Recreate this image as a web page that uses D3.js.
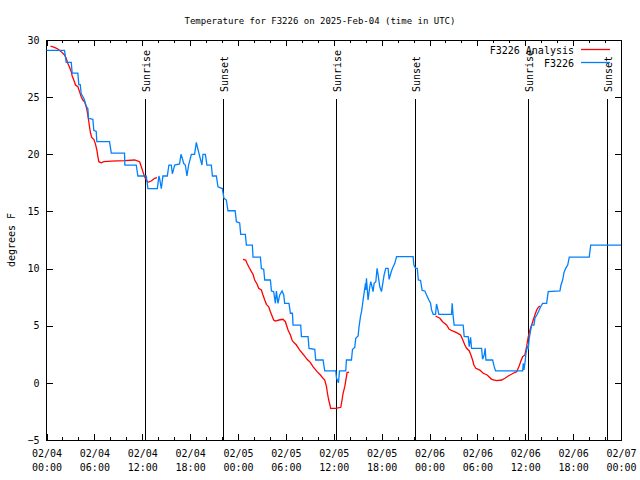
<!DOCTYPE html>
<html><head><meta charset="utf-8">
<script src="https://cdn.jsdelivr.net/npm/d3@7"></script>
<style>
body{margin:0;background:#fff}
text{font-family:"DejaVu Sans Mono","Liberation Mono",monospace;font-size:10px;fill:#000}
</style>
</head><body>
<svg id="c" width="640" height="480"></svg>
<script>
const titleText = "Temperature for F3226 on 2025-Feb-04 (time in UTC)";
const yLabel = "degrees F";
const yTicks = [-5, 0, 5, 10, 15, 20, 25, 30];
const seriesNames = ["F3226 Analysis", "F3226"];
const sunriseHours = [12.33, 36.3, 60.38];
const sunsetHours = [22.12, 46.2, 70.3];

// F3226 observations (hours since 2025-02-04 00:00 UTC, deg F)
const obsHours = [0,2.26,2.47,3.10,3.22,3.93,4.05,4.23,4.35,4.68,
4.98,5.18,5.27,5.81,5.93,6.23,6.31,7.90,8.12,9.78,
9.82,11.25,11.45,12.5,12.71,13.89,14.09,14.17,14.39,14.59,
15.14,15.34,15.64,15.77,15.93,16.06,16.68,16.85,17.02,17.19,
17.40,17.6,17.81,18.15,18.56,18.78,18.9,19.1,19.32,19.48,
19.61,19.91,20.11,20.66,20.79,21.29,21.49,22.04,22.24,22.54,
22.74,23.64,23.8,24.21,24.34,24.92,25.05,25.8,25.88,26.81,
26.93,27.22,27.35,28.06,28.19,28.47,28.69,28.81,29.01,29.23,
29.52,29.73,29.85,30.39,30.57,30.82,30.9,31.86,31.95,32.78,
32.9,33.62,33.74,34.66,34.87,36.25,36.34,36.59,36.72,37.5,
37.59,38.22,38.35,38.63,38.76,39.05,39.17,39.35,39.48,39.6,
39.68,39.8,39.98,40.01,40.1,40.22,40.3,40.43,40.52,40.64,
40.8,40.93,41.06,41.27,41.43,41.56,41.77,41.98,42.11,42.31,
42.52,42.81,42.94,43.15,43.36,43.65,43.87,45.95,46.04,46.25,
46.47,46.6,46.88,47.08,47.42,47.63,47.92,48.13,48.26,48.46,
48.76,48.88,49.01,49.17,50.76,50.84,50.97,51.09,52.22,52.35,
52.85,52.97,53.15,53.27,54.53,54.65,54.85,54.98,55.07,55.91,
56.11,56.28,59.67,59.75,59.83,59.96,60.09,60.25,60.38,60.5,
60.68,60.8,61.09,61.21,61.5,61.75,61.93,62.18,62.68,62.88,
64.35,64.48,64.69,64.85,65.07,65.32,65.52,68.02,68.2,72];
const obsTemps = [29.1,29.1,28.05,28.05,27.1,27.1,26.1,26.1,25.3,24.9,
24.2,24.0,23.15,23.06,22.1,22.0,21.1,21.1,20.1,20.1,
19.06,19.06,18.1,18.1,17.0,17.0,18.1,17.9,17.0,18.1,
18.1,19.06,19.06,18.3,18.7,19.06,19.15,20.0,19.65,19.2,
19.06,18.1,19.06,20.0,20.0,21.05,20.66,20.1,19.5,19.06,
20.0,20.0,19.06,19.06,18.1,18.1,17.16,17.0,16.15,16.0,
15.06,15.06,14.1,14.0,13.0,13.0,12.06,12.06,11.0,11.0,
10.0,9.94,9.0,9.0,8.04,7.98,6.96,8.04,6.96,7.69,
8.04,7.69,6.96,6.96,6.09,6.09,5.06,5.06,4.04,4.04,
3.02,2.94,2.0,2.0,1.04,1.04,0.43,0.0,1.04,1.04,
2.0,2.0,2.94,3.1,3.9,4.1,4.92,5.8,6.23,6.81,
7.25,7.84,8.71,8.13,9.15,7.98,7.25,7.98,8.41,8.85,
8.41,7.98,8.71,8.85,10.02,9.44,8.41,7.98,8.56,9.44,
10.02,10.02,9.06,9.59,10.02,10.46,11.04,11.04,10.31,10.02,
10.02,9.0,8.96,8.08,8.04,7.69,7.25,6.96,6.38,6.0,
6.0,6.9,6.52,6.0,6.0,6.96,5.8,5.06,5.06,4.04,
4.04,3.16,3.98,3.02,3.02,2.06,2.44,3.02,2.0,2.0,
1.42,1.04,1.04,1.71,1.13,1.71,2.59,3.16,3.02,3.9,
4.62,5.06,5.06,5.65,6.0,6.38,6.66,6.96,6.96,7.98,
8.04,8.56,9.0,9.64,10.02,10.31,11.0,11.0,12.06,12.06];

// F3226 Analysis (null = gap)
const anaHours = [0.5,1.0,1.42,1.84,2.26,2.47,2.67,2.89,3.1,3.22,
3.42,3.64,3.93,4.14,4.35,4.55,4.77,4.98,5.11,5.27,
5.39,5.52,5.68,5.93,6.11,6.31,6.44,6.56,6.86,7.19,
8.12,9.78,11.04,11.67,11.88,12.08,12.29,12.51,12.71,13.13,
13.55,13.84,
20,
24.62,24.96,25.13,25.38,25.68,25.88,26.09,26.38,26.59,26.93,
27.13,27.35,27.56,27.85,28.06,28.31,28.47,28.66,29.14,29.64,
29.94,30.07,30.27,30.57,30.77,30.9,31.32,31.74,32.24,32.65,
32.99,33.4,33.91,34.33,34.66,34.87,35.09,35.21,35.37,35.62,
36.25,36.88,37.04,37.17,37.38,37.59,37.67,37.92,
45,
48.76,49.3,49.64,50.14,50.47,50.89,51.39,51.89,52.14,52.43,
52.65,52.97,53.19,53.4,53.56,53.81,54.31,54.73,55.23,55.78,
56.41,57.04,57.45,57.87,58.49,58.92,59.21,59.42,59.67,59.96,
60.17,60.38,60.59,60.8,61.0,61.21,61.43,61.63,61.84];
const anaTemps = [29.47,29.36,29.21,28.98,28.69,28.4,27.96,27.61,27.23,26.85,
26.5,26.06,25.91,25.48,25.04,24.75,24.6,24.16,23.73,23.0,
22.41,21.84,21.45,21.31,20.96,20.38,19.79,19.35,19.26,19.35,
19.41,19.44,19.5,19.35,18.91,18.48,18.04,17.75,17.55,17.66,
17.9,17.95,
null,
10.81,10.75,10.46,10.11,9.73,9.5,9.0,8.65,8.27,8.13,
7.69,7.25,6.87,6.66,6.23,5.79,5.5,5.41,5.5,5.56,
5.35,5.06,4.62,4.19,3.75,3.6,3.31,2.87,2.44,2.06,
1.85,1.42,0.98,0.69,0.4,0.25,-0.33,-0.91,-1.5,-2.23,
-2.23,-2.14,-1.5,-0.91,-0.33,0.55,0.9,0.94,
null,
5.85,5.65,5.35,5.06,4.69,4.54,4.39,4.19,3.81,3.31,
3.02,2.81,2.44,2.0,1.56,1.27,1.12,0.84,0.69,0.31,
0.19,0.25,0.4,0.6,0.84,0.98,1.42,1.85,2.29,2.44,
3.16,4.04,4.62,5.06,5.5,5.94,6.38,6.61,6.73];

const colors = {analysis: "#ff0000", obs: "#0080ff"};

const t0 = Date.UTC(2025, 1, 4);
const toDate = h => new Date(t0 + h * 3600e3);

const L = 46.5, R = 621, T = 40, B = 440;
const svg = d3.select("#c");
const x = d3.scaleUtc().domain([toDate(0), toDate(72)]).range([L, R]);
const y = d3.scaleLinear().domain([-5, 30]).range([B, T]);

// border
svg.append("rect").attr("x", L).attr("y", T).attr("width", R - L).attr("height", B - T)
  .attr("fill", "none").attr("stroke", "#000").attr("stroke-width", 1).attr("shape-rendering", "crispEdges");

const fmtD = d3.utcFormat("%m/%d"), fmtT = d3.utcFormat("%H:%M");
const majorTicks = d3.utcHour.every(6).range(toDate(0), toDate(72.01));
const minorTicks = d3.utcHour.every(2).range(toDate(0), toDate(72.01));

function styleAxis(g){
  g.select(".domain").remove();
  g.selectAll(".tick line").attr("stroke", "#000").attr("shape-rendering", "crispEdges");
}
// minor ticks bottom/top
svg.append("g").attr("transform", `translate(0,${B})`)
  .call(d3.axisBottom(x).tickValues(minorTicks).tickSize(-3).tickFormat(""))
  .call(styleAxis);
svg.append("g").attr("transform", `translate(0,${T})`)
  .call(d3.axisTop(x).tickValues(minorTicks).tickSize(-3).tickFormat(""))
  .call(styleAxis);
// major bottom
const xb = svg.append("g").attr("transform", `translate(0,${B})`)
  .call(d3.axisBottom(x).tickValues(majorTicks).tickSize(-6).tickFormat(""))
  .call(styleAxis);
xb.selectAll(".tick").each(function(d){
  const t = d3.select(this).append("text").attr("text-anchor", "middle").attr("fill", "#000");
  t.append("tspan").attr("x", 0).attr("y", 17).text(fmtD(d));
  t.append("tspan").attr("x", 0).attr("y", 31).text(fmtT(d));
});
svg.append("g").attr("transform", `translate(0,${T})`)
  .call(d3.axisTop(x).tickValues(majorTicks).tickSize(-6).tickFormat(""))
  .call(styleAxis);

// y axes
const yl = svg.append("g").attr("transform", `translate(${L},0)`)
  .call(d3.axisLeft(y).tickValues(yTicks).tickSize(-6).tickPadding(7).tickFormat(d3.format("d")))
  .call(styleAxis);
yl.selectAll(".tick text").attr("fill", "#000").attr("font-size", "10px").attr("font-family", "DejaVu Sans Mono");
svg.append("g").attr("transform", `translate(${R},0)`)
  .call(d3.axisRight(y).tickValues(yTicks).tickSize(-6).tickFormat(""))
  .call(styleAxis);

// title
svg.append("text").attr("x", 320).attr("y", 23.5).attr("text-anchor", "middle")
  .style("font-size", "9px").text(titleText);
// y label
svg.append("text").attr("transform", "translate(15,240) rotate(-90)").attr("text-anchor", "middle").text(yLabel);

// sun lines
const sunEvents = sunriseHours.map(h => ({h, name: "Sunrise"}))
  .concat(sunsetHours.map(h => ({h, name: "Sunset"})));
sunEvents.forEach(e => {
  const xp = Math.round(x(toDate(e.h))) + 0.5;
  svg.append("line").attr("x1", xp).attr("x2", xp).attr("y1", 99).attr("y2", B)
    .attr("stroke", "#000").attr("stroke-width", 1).attr("shape-rendering", "crispEdges");
  svg.append("text").attr("transform", `translate(${xp + 4.5},92) rotate(-90)`).text(e.name);
});

// data lines
const obs = obsHours.map((h, i) => ({d: toDate(h), v: obsTemps[i]}));
const ana = anaHours.map((h, i) => ({d: toDate(h), v: anaTemps[i]}));
const line = d3.line().defined(p => p.v != null).x(p => x(p.d)).y(p => y(p.v));

svg.append("path").datum(ana).attr("d", line).attr("fill", "none")
  .attr("stroke", colors.analysis).attr("stroke-width", 1.3);
svg.append("path").datum(obs).attr("d", line).attr("fill", "none")
  .attr("stroke", colors.obs).attr("stroke-width", 1.3);

// legend
const leg = [{name: seriesNames[0], c: colors.analysis, y: 49.5}, {name: seriesNames[1], c: colors.obs, y: 62.5}];
leg.forEach(l => {
  svg.append("text").attr("x", 574).attr("y", l.y + 4).attr("text-anchor", "end").text(l.name);
  svg.append("line").attr("x1", 581).attr("x2", 610).attr("y1", l.y).attr("y2", l.y)
    .attr("stroke", l.c).attr("stroke-width", 1.3);
});
</script>
</body></html>
